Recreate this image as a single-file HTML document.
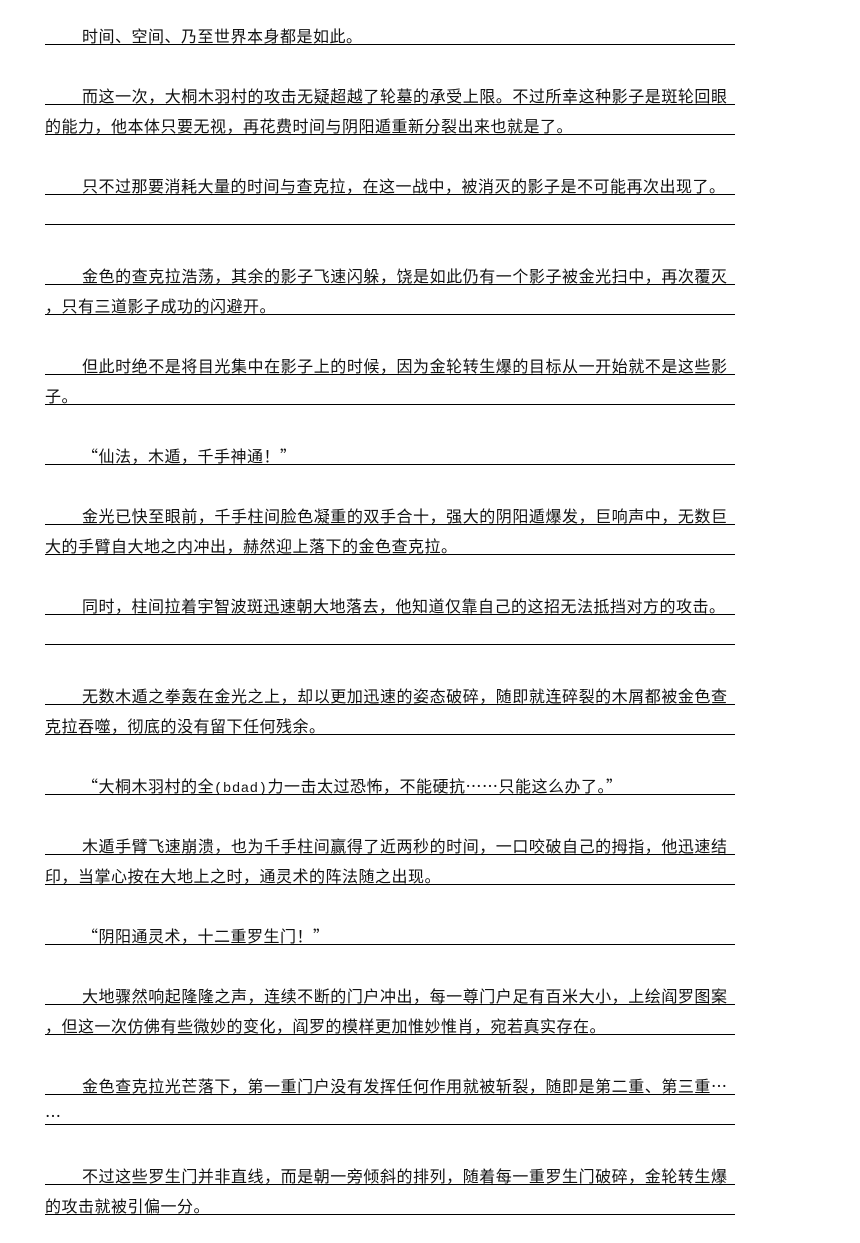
<!DOCTYPE html>
<html><head><meta charset="utf-8"><style>
html,body{margin:0;padding:0;background:#fff;width:860px;height:1243px;overflow:hidden;position:relative}
.r{position:absolute;left:45px;width:690px;height:0;border-top:1px solid #000}
.t{position:absolute;left:45px;width:682px;font:16px/16px "Noto Sans CJK SC","WenQuanYi Zen Hei",sans-serif;letter-spacing:0.5px;color:#111;white-space:nowrap;margin-top:-3px}
.i{padding-left:37px;width:645px}
.j{text-align:justify;text-align-last:justify;white-space:normal;letter-spacing:0}
.l{font-family:"Liberation Mono",monospace;font-size:14px}
</style></head><body>
<div class="r" style="top:44px"></div><div class="t i" style="top:30px">时间、空间、乃至世界本身都是如此。</div>
<div class="r" style="top:104px"></div><div class="t i j" style="top:90px">而这一次，大桐木羽村的攻击无疑超越了轮墓的承受上限。不过所幸这种影子是斑轮回眼</div>
<div class="r" style="top:134px"></div><div class="t" style="top:120px">的能力，他本体只要无视，再花费时间与阴阳遁重新分裂出来也就是了。</div>
<div class="r" style="top:194px"></div><div class="t i" style="top:180px">只不过那要消耗大量的时间与查克拉，在这一战中，被消灭的影子是不可能再次出现了。</div>
<div class="r" style="top:224px"></div>
<div class="r" style="top:284px"></div><div class="t i j" style="top:270px">金色的查克拉浩荡，其余的影子飞速闪躲，饶是如此仍有一个影子被金光扫中，再次覆灭</div>
<div class="r" style="top:314px"></div><div class="t" style="top:300px">，只有三道影子成功的闪避开。</div>
<div class="r" style="top:374px"></div><div class="t i j" style="top:360px">但此时绝不是将目光集中在影子上的时候，因为金轮转生爆的目标从一开始就不是这些影</div>
<div class="r" style="top:404px"></div><div class="t" style="top:390px">子。</div>
<div class="r" style="top:464px"></div><div class="t i" style="top:450px">“仙法，木遁，千手神通！”</div>
<div class="r" style="top:524px"></div><div class="t i j" style="top:510px">金光已快至眼前，千手柱间脸色凝重的双手合十，强大的阴阳遁爆发，巨响声中，无数巨</div>
<div class="r" style="top:554px"></div><div class="t" style="top:540px">大的手臂自大地之内冲出，赫然迎上落下的金色查克拉。</div>
<div class="r" style="top:614px"></div><div class="t i" style="top:600px">同时，柱间拉着宇智波斑迅速朝大地落去，他知道仅靠自己的这招无法抵挡对方的攻击。</div>
<div class="r" style="top:644px"></div>
<div class="r" style="top:704px"></div><div class="t i j" style="top:690px">无数木遁之拳轰在金光之上，却以更加迅速的姿态破碎，随即就连碎裂的木屑都被金色查</div>
<div class="r" style="top:734px"></div><div class="t" style="top:720px">克拉吞噬，彻底的没有留下任何残余。</div>
<div class="r" style="top:794px"></div><div class="t i" style="top:780px">“大桐木羽村的全<span class="l">(bdad)</span>力一击太过恐怖，不能硬抗……只能这么办了。”</div>
<div class="r" style="top:854px"></div><div class="t i j" style="top:840px">木遁手臂飞速崩溃，也为千手柱间赢得了近两秒的时间，一口咬破自己的拇指，他迅速结</div>
<div class="r" style="top:884px"></div><div class="t" style="top:870px">印，当掌心按在大地上之时，通灵术的阵法随之出现。</div>
<div class="r" style="top:944px"></div><div class="t i" style="top:930px">“阴阳通灵术，十二重罗生门！”</div>
<div class="r" style="top:1004px"></div><div class="t i j" style="top:990px">大地骤然响起隆隆之声，连续不断的门户冲出，每一尊门户足有百米大小，上绘阎罗图案</div>
<div class="r" style="top:1034px"></div><div class="t" style="top:1020px">，但这一次仿佛有些微妙的变化，阎罗的模样更加惟妙惟肖，宛若真实存在。</div>
<div class="r" style="top:1094px"></div><div class="t i j" style="top:1080px">金色查克拉光芒落下，第一重门户没有发挥任何作用就被斩裂，随即是第二重、第三重…</div>
<div class="r" style="top:1124px"></div><div class="t" style="top:1110px">…</div>
<div class="r" style="top:1184px"></div><div class="t i j" style="top:1170px">不过这些罗生门并非直线，而是朝一旁倾斜的排列，随着每一重罗生门破碎，金轮转生爆</div>
<div class="r" style="top:1214px"></div><div class="t" style="top:1200px">的攻击就被引偏一分。</div>
</body></html>
